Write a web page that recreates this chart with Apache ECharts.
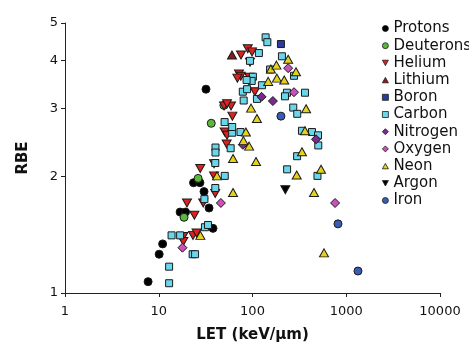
<!DOCTYPE html>
<html><head><meta charset="utf-8">
<script src="https://cdn.jsdelivr.net/npm/echarts@6/dist/echarts.min.js"></script>
<style>html,body{margin:0;padding:0;background:#fff}#c{width:469px;height:352px}</style>
</head><body><div id="c"></div>
<script>
const seriesNames = ['Protons','Deuterons','Helium','Lithium','Boron','Carbon','Nitrogen','Oxygen','Neon','Argon','Iron'];
const xTickLabels = ['1','10','100','1000','10000'];
const yTickValues = [1,2,3,4,5];

const protons = [[7.7,1.07],[10.1,1.26],[11.0,1.34],[16.9,1.62],[19.3,1.62],[23.5,1.93],[27.5,1.93],[30.4,1.83],[34.4,1.66],[37.9,1.47],[31.9,3.37]];
const deuterons = [[18.6,1.57],[26.3,1.98],[36.3,2.75],[49.5,3.06]];
const helium = [[20.0,1.71],[24.0,1.59],[18.3,1.40],[18.3,1.36],[23.2,1.41],[25.3,1.43],[27.7,2.10],[38.9,2.16],[38.9,2.01],[40.0,1.81],[29.8,1.71],[50.5,2.61],[53.5,2.56],[53.0,2.43],[49.7,3.05],[59.0,3.05],[61.0,2.87],[75.4,4.13],[89.0,4.29],[98.8,4.21],[94.0,3.96],[71.8,3.69],[75.0,3.64],[69.0,3.60],[92.5,3.62],[106,3.32],[53.5,3.09]];
const lithium = [[60.4,4.13]];
const boron = [[201,4.41]];
const carbon = [[13.7,1.41],[16.9,1.41],[12.9,1.17],[12.9,1.06],[23.0,1.26],[24.4,1.26],[31.1,1.48],[33.5,1.50],[30.7,1.75],[40.1,1.87],[40.1,2.17],[40.3,2.38],[40.3,2.31],[50.6,2.01],[58.5,2.37],[60.7,2.60],[74.5,2.61],[50.4,2.77],[60.7,2.69],[138,4.59],[144,4.46],[117,4.18],[94,3.99],[101,3.63],[98,3.54],[86.5,3.56],[126,3.45],[154,3.79],[206,4.10],[277,3.65],[363,3.30],[233,3.30],[222,3.23],[78.8,3.32],[87.5,3.37],[80.5,3.15],[111.5,3.18],[272,3.02],[300,2.91],[337,2.63],[431,2.61],[500,2.56],[503,2.41],[234,2.09],[299,2.26],[493,2.01]];
const nitrogen = [[125,3.22],[165,3.14],[79,2.42],[476,2.50]];
const oxygen = [[17.9,1.31],[46,1.71],[240,3.82],[277,3.31],[760,1.71]];
const neon = [[27.8,1.41],[41.8,2.01],[62,2.23],[62,1.82],[109,2.19],[92,2.40],[80,2.48],[85,2.61],[96.5,3.01],[111.5,2.83],[157,3.80],[180,3.89],[240,4.03],[291,3.74],[147,3.53],[182,3.60],[218,3.56],[373,3.00],[363,2.63],[337,2.32],[296,2.02],[538,2.09],[453,1.82],[579,1.27]];
const argon = [[224,1.85]];
const iron = [[201,2.87],[816,1.51],[1334,1.14]];

const DOWN = 'path://M0,0 L10,0 L5,9 Z';
const UP = 'path://M5,0 L10,9 L0,9 Z';
const styles = [
  {d:protons, sym:'circle', size:8, color:'#000000'},
  {d:deuterons, sym:'circle', size:8, color:'#5cb83c'},
  {d:helium, sym:DOWN, size:[9,8], color:'#dd2020'},
  {d:lithium, sym:UP, size:[9,8], color:'#8a1a22'},
  {d:boron, sym:'rect', size:7, color:'#2a3d9c'},
  {d:carbon, sym:'rect', size:7, color:'#6ad6ec'},
  {d:nitrogen, sym:'diamond', size:9, color:'#7a2a8c'},
  {d:oxygen, sym:'diamond', size:9, color:'#cc50bc'},
  {d:neon, sym:UP, size:[9,8], color:'#e6d21a'},
  {d:argon, sym:DOWN, size:[9,8], color:'#000000'},
  {d:iron, sym:'circle', size:8, color:'#3a5cb6'}
];

const FONT = 'DejaVu Sans';
const chart = echarts.init(document.getElementById('c'), null, {renderer:'canvas'});
chart.setOption({
  animation:false,
  backgroundColor:'#fff',
  grid:{left:65, right:29, top:23, bottom:59},
  legend:{
    orient:'vertical', left:377, top:16, itemGap:2.2, itemWidth:6, itemHeight:6,
    textStyle:{fontFamily:FONT, fontSize:15, color:'#111', lineHeight:15},
    itemStyle:{borderWidth:0.8},
    data:seriesNames
  },
  xAxis:{
    type:'log', logBase:10, min:1, max:10000,
    name:'LET (keV/\u00b5m)', nameLocation:'middle', nameGap:35,
    nameTextStyle:{fontFamily:FONT, fontSize:15, fontWeight:'bold', color:'#111'},
    axisLine:{lineStyle:{color:'#222', width:1}},
    axisTick:{show:true, length:4, lineStyle:{color:'#222'}},
    minorTick:{show:false},
    splitLine:{show:false},
    axisLabel:{fontFamily:FONT, fontSize:13, color:'#111', margin:12,
      formatter:function(v){ const i = Math.round(Math.log10(v)); return xTickLabels[i] !== undefined ? xTickLabels[i] : ''; }}
  },
  yAxis:{
    type:'log', logBase:10, min:1, max:5,
    name:'RBE', nameLocation:'middle', nameGap:34, nameRotate:90,
    nameTextStyle:{fontFamily:FONT, fontSize:15, fontWeight:'bold', color:'#111'},
    axisLine:{show:true, lineStyle:{color:'#222', width:1}},
    axisTick:{show:true, length:4, lineStyle:{color:'#222'}, customValues:yTickValues},
    splitLine:{show:false},
    axisLabel:{fontFamily:FONT, fontSize:13, color:'#111', margin:7, customValues:yTickValues,
      formatter:function(v){ return String(Math.round(v)); }}
  },
  series: styles.map((s,i)=>({
    name:seriesNames[i], type:'scatter', data:s.d, symbol:s.sym, symbolSize:s.size,
    itemStyle:{color:s.color, borderColor:'#1a1a1a', borderWidth:1, opacity:1},
    emphasis:{disabled:true}
  }))
});
</script></body></html>
